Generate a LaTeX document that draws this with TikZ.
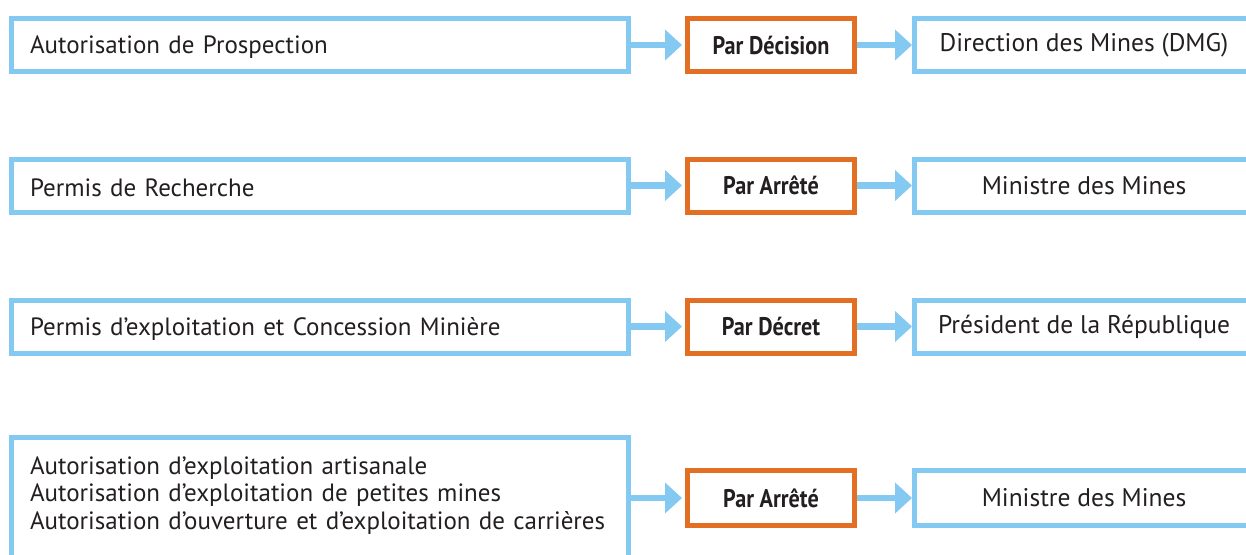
\documentclass[tikz,border=0pt]{standalone}
\usepackage{fontspec}
\setmainfont{PT Sans}
\usetikzlibrary{arrows.meta}
\definecolor{bl}{HTML}{84C9F1}
\definecolor{orng}{HTML}{E36F24}
\definecolor{txt}{HTML}{231F20}
\tikzset{
  lbox/.style={draw=bl, line width=5pt, minimum width=617pt, minimum height=53pt,
    text width=580pt, align=left, inner xsep=18.5pt, inner ysep=0pt, text=txt,
    font=\fontsize{25}{27.5}\selectfont},
  obox/.style={draw=orng, line width=5pt, minimum width=167pt, minimum height=53pt,
    inner sep=0pt, text=txt, font=\fontsize{25.5}{27.5}\selectfont\bfseries},
  rbox/.style={draw=bl, line width=5pt, minimum width=339pt, minimum height=53pt,
    inner sep=0pt, text=txt, font=\fontsize{25.5}{27.5}\selectfont},
  arr/.style={draw=bl, line width=6.5pt, -{Triangle[length=17pt,width=30pt]}},
}
\newcommand{\cond}[1]{\scalebox{0.87}[1]{#1}}
\begin{document}
\begin{tikzpicture}[x=1pt,y=-1pt]
\clip (0,0) rectangle (1246,554);
% row 1
\node[lbox] (L1) at (320,45) {\raisebox{-2pt}[\height][\depth]{Autorisation de Prospection}};
\node[obox] (O1) at (771,45) {\cond{Par Décision}};
\node[rbox] (R1) at (1084,45) {Direction des Mines (DMG)};
% row 2
\node[lbox] (L2) at (320,185.5) {\raisebox{-2pt}[\height][\depth]{Permis de Recherche}};
\node[obox] (O2) at (771,185.5) {\cond{Par Arrêté}};
\node[rbox] (R2) at (1084,185.5) {Ministre des Mines};
% row 3
\node[lbox] (L3) at (320,326.5) {\raisebox{-2pt}[\height][\depth]{Permis d’exploitation et Concession Minière}};
\node[obox] (O3) at (771,326.5) {\cond{Par Décret}};
\node[rbox] (R3) at (1084,326.5) {Président de la République};
% row 4
\node[lbox, minimum height=125pt] (L4) at (320,500) {\raisebox{4.5pt}[\height][\depth]{\parbox{580pt}{\raggedright
  \mbox{Autorisation d’exploitation artisanale}\\
  \mbox{Autorisation d’exploitation de petites mines}\\
  \mbox{Autorisation d’ouverture et d’exploitation de carrières}}}};
\node[obox, minimum height=55pt] (O4) at (771,498) {\cond{Par Arrêté}};
\node[rbox, minimum height=55pt] (R4) at (1084,498) {Ministre des Mines};
% arrows
\foreach \i in {1,2,3,4}{
  \draw[arr, shorten >=3pt] (L\i.east |- O\i.west) -- (O\i.west);
  \draw[arr] (O\i.east) -- (R\i.west);
}
\end{tikzpicture}
\end{document}
